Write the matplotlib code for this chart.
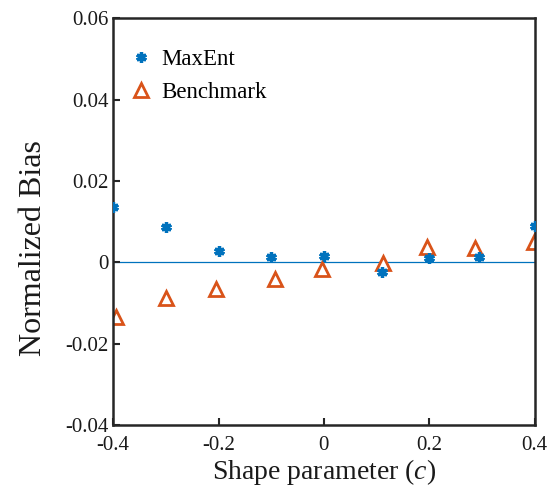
import matplotlib.pyplot as plt
import numpy as np

plt.rcParams['font.family'] = ['Liberation Serif', 'DejaVu Serif']
plt.rcParams['mathtext.fontset'] = 'custom'
plt.rcParams['mathtext.it'] = 'Liberation Serif:italic'

# shape parameter c and normalized bias for each estimator
c_maxent = [-0.40, -0.30, -0.20, -0.10, 0.00, 0.11, 0.20, 0.295, 0.40]
bias_maxent = [0.0136, 0.0088, 0.0027, 0.0013, 0.0016, -0.0023, 0.0012, 0.0013, 0.0089]

c_bench = [-0.395, -0.30, -0.205, -0.092, -0.004, 0.112, 0.196, 0.286, 0.398]
bias_bench = [-0.0133, -0.0087, -0.0066, -0.0040, -0.0017, -0.0001, 0.0039, 0.0036, 0.0050]

blue = '#0072BD'
orange = '#D95319'
dark = '#262626'

fig = plt.figure(figsize=(5.49, 4.91), dpi=100)
ax = fig.add_axes([0.206, 0.134, 0.768, 0.829])

ax.axhline(0, color=blue, lw=0.9, zorder=1)
ax.plot(c_maxent, bias_maxent, ls='none', marker=(6, 2, 0), ms=7.5,
        mew=2.4, color=blue, label='MaxEnt', zorder=3)
ax.plot(c_bench, bias_bench, ls='none', marker='^', ms=10, mew=2.0,
        mfc='white', mec=orange, label='Benchmark', zorder=2)

ax.set_xlim(-0.4, 0.4)
ax.set_ylim(-0.04, 0.06)
ax.set_xticks([-0.4, -0.2, 0, 0.2, 0.4])
ax.set_xticklabels(['-0.4', '-0.2', '0', '0.2', '0.4'])
ax.set_yticks([-0.04, -0.02, 0, 0.02, 0.04, 0.06])
ax.set_yticklabels(['-0.04', '-0.02', '0', '0.02', '0.04', '0.06'])
ax.tick_params(direction='in', length=5, width=1.5, color=dark,
               labelsize=15, labelcolor='#1a1a1a', pad=3)
ax.tick_params(axis='x', pad=8)
for s in ax.spines.values():
    s.set_linewidth(1.8)
    s.set_color(dark)

ax.set_xlabel('Shape parameter ($\\mathit{c}$)', fontsize=20, labelpad=1, color='#1a1a1a')
ax.set_ylabel('Normalized Bias', fontsize=23, color='#1a1a1a')
ax.yaxis.set_label_coords(-0.155, 0.435)

ax.legend(loc='upper left', bbox_to_anchor=(0.0, 0.97), frameon=False,
          fontsize=16.5, handletextpad=0.5, handlelength=0.8, labelspacing=0.55,
          borderaxespad=0.4)

fig.savefig('out.png', dpi=100)
